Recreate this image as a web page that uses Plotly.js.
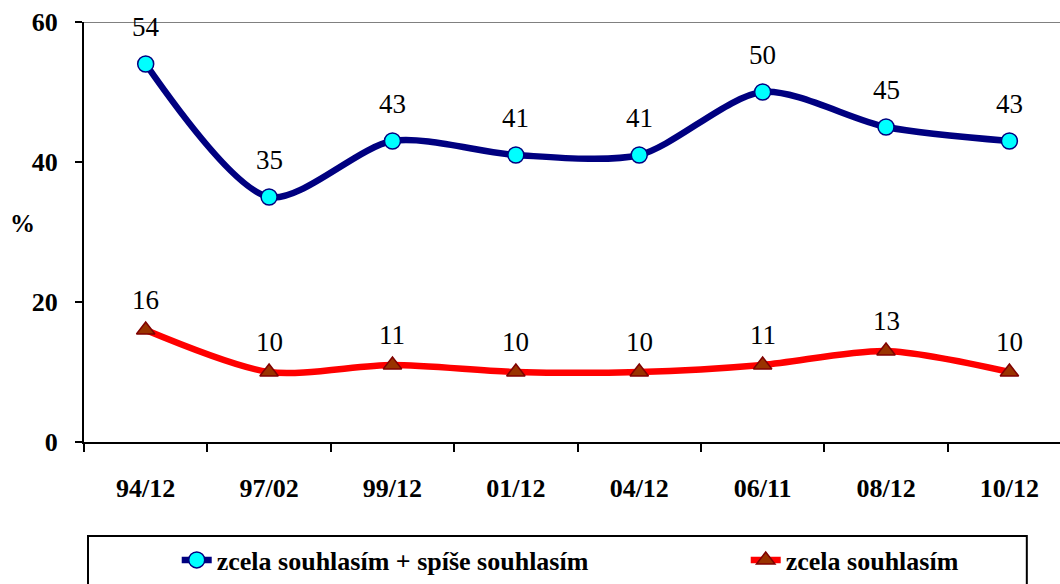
<!DOCTYPE html>
<html>
<head>
<meta charset="utf-8">
<script src="https://cdn.plot.ly/plotly-3.0.1.min.js"></script>
<style>
  html, body { margin: 0; padding: 0; background: #fff; }
  #chart { width: 1060px; height: 584px; }
</style>
</head>
<body>
<div id="chart"></div>
<script>
const periods = ['94/12', '97/02', '99/12', '01/12', '04/12', '06/11', '08/12', '10/12'];
const agreeTotal = [54, 35, 43, 41, 41, 50, 45, 43]; // zcela + spíše souhlasím
const agreeFully = [16, 10, 11, 10, 10, 11, 13, 10]; // zcela souhlasím
const yTicks = [0, 20, 40, 60];

const serif = 'Liberation Serif';

const traces = [
  {
    x: periods,
    y: agreeTotal,
    name: 'zcela souhlasím + spíše souhlasím',
    legend: 'legend',
    mode: 'lines+markers',
    line: { color: '#000080', width: 6.5, shape: 'spline', smoothing: 0.8 },
    marker: { symbol: 'circle', size: 16, color: '#00ffff', line: { color: '#000080', width: 1.5 } },
    hoverinfo: 'x+y'
  },
  {
    x: periods,
    y: agreeFully,
    name: 'zcela souhlasím',
    legend: 'legend2',
    mode: 'lines+markers',
    line: { color: '#ff0000', width: 6.5, shape: 'spline', smoothing: 0.8 },
    marker: { symbol: 'triangle-up', size: 16, color: '#993300', line: { color: '#800000', width: 1.5 } },
    hoverinfo: 'x+y'
  }
];

// value labels above the points
const annotations = [];
function addLabels( values, shift ) {
  for( let i = 0; i < periods.length; i++ ) {
    annotations.push({
      x: periods[i], y: values[i], text: String(values[i]),
      showarrow: false, yshift: shift,
      font: { family: serif, size: 27, color: '#000' }
    });
  }
}
addLabels( agreeTotal, 37 );
addLabels( agreeFully, 30 );

annotations.push({
  xref: 'paper', yref: 'paper', x: -0.063, y: 0.52, text: '<b>%</b>',
  showarrow: false, xanchor: 'center',
  font: { family: serif, size: 25, color: '#000' }
});

const legendStyle = {
  orientation: 'h',
  xanchor: 'left',
  y: -0.281, yanchor: 'middle',
  bgcolor: 'rgba(0,0,0,0)',
  borderwidth: 0,
  font: { family: serif, size: 26, color: '#000', weight: 'bold' }
};

const layout = {
  width: 1060,
  height: 584,
  margin: { l: 84, r: 0, t: 22, b: 142, autoexpand: false },
  paper_bgcolor: '#fff',
  plot_bgcolor: '#fff',
  font: { family: serif, color: '#000' },
  showlegend: true,
  legend: Object.assign({ x: 0.095 }, legendStyle),
  legend2: Object.assign({ x: 0.678 }, legendStyle),
  xaxis: {
    type: 'category',
    range: [-0.5, 7.41],
    showgrid: false,
    zeroline: false,
    showline: true, linecolor: '#000', linewidth: 2,
    ticks: 'outside', tickson: 'boundaries', ticklen: 8, tickwidth: 2, tickcolor: '#000',
    ticklabelstandoff: 22,
    tickfont: { family: serif, size: 26, color: '#000', weight: 'bold' },
    fixedrange: true
  },
  yaxis: {
    range: [0, 60],
    tickvals: yTicks,
    showgrid: false,
    zeroline: false,
    showline: true, linecolor: '#000', linewidth: 2,
    ticks: 'outside', ticklen: 7, tickwidth: 2, tickcolor: '#000',
    ticklabelstandoff: 12,
    tickfont: { family: serif, size: 26, color: '#000', weight: 'bold' },
    fixedrange: true
  },
  shapes: [
    // grey top edge of the plot area
    { type: 'line', xref: 'paper', yref: 'y', x0: 0, x1: 1, y0: 60, y1: 60,
      line: { color: '#808080', width: 2 } },
    // legend frame
    { type: 'rect', xref: 'paper', yref: 'paper', x0: 0.0041, x1: 0.966, y0: -0.224, y1: -0.40,
      line: { color: '#000', width: 2 }, fillcolor: 'rgba(0,0,0,0)' }
  ],
  annotations: annotations
};

Plotly.newPlot('chart', traces, layout, { displayModeBar: false });
</script>
</body>
</html>
